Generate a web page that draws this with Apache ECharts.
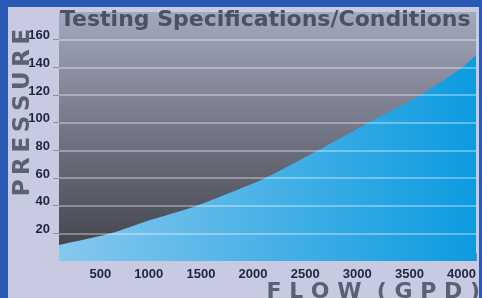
<!DOCTYPE html>
<html>
<head>
<meta charset="utf-8">
<script src="https://cdn.jsdelivr.net/npm/echarts@6/dist/echarts.min.js"></script>
<style>
    html, body { margin: 0; padding: 0; background: #2a5bb4; width: 482px; height: 298px; overflow: hidden; }
    #main { position: absolute; left: 8px; top: 7px; width: 471px; height: 291px; background: #c7cae1; }
</style>
</head>
<body>
<div id="main"></div>
<script>
// 读图得到的数据（曲线与网格线交点）
var flow = [0, 500, 875, 1324, 1981, 2485, 2971, 3471, 3870, 4000];
var pressure = [11.5, 20, 29.6, 40, 60, 80, 100, 120, 140, 149];
var xTicks = [500, 1000, 1500, 2000, 2500, 3000, 3500, 4000];
var yTicks = [20, 40, 60, 80, 100, 120, 140, 160];

var labelFont = "'Liberation Sans', Arial, sans-serif";
var nameColor = '#5a6171';

var myChart = echarts.init(document.getElementById('main'));

var option = {
    animation: false,
    title: {
        text: 'Testing Specifications/Conditions',
        left: 52,
        top: 2,
        padding: 0,
        textStyle: {
            fontFamily: 'DejaVu Sans',
            fontWeight: 'bold',
            fontSize: 22,
            color: '#4a5162'
        }
    },
    grid: {
        left: 51,
        right: 3,
        top: 5,
        bottom: 37,
        outerBoundsMode: 'none',
        containLabel: false,
        show: true,
        borderWidth: 0,
        backgroundColor: new echarts.graphic.LinearGradient(0, 0, 0, 1, [
            {offset: 0, color: '#a3a8bd'},
            {offset: 1, color: '#3e3f48'}
        ])
    },
    xAxis: {
        type: 'value',
        min: 0,
        max: 4000,
        interval: 500,
        name: 'F L O W  ( G P D )',
        nameLocation: 'end',
        nameGap: 4,
        nameMoveOverlap: false,
        nameTextStyle: {
            fontFamily: 'DejaVu Sans',
            fontWeight: 'bold',
            fontSize: 22,
            color: nameColor,
            align: 'right',
            verticalAlign: 'top',
            padding: [20, 0, 0, 0]
        },
        axisLine: {show: false},
        axisTick: {
            show: true,
            inside: true,
            length: 8,
            customValues: xTicks,
            lineStyle: {color: 'rgba(70,80,100,0.55)', width: 1}
        },
        axisLabel: {
            margin: 7,
            align: 'right',
            customValues: xTicks,
            formatter: function (v) { return String(v); },
            fontFamily: labelFont,
            fontWeight: 'bold',
            fontSize: 13,
            color: '#1f2540'
        },
        splitLine: {show: false}
    },
    yAxis: {
        type: 'value',
        min: 0,
        max: 180,
        interval: 20,
        name: 'P\u2009R\u2009E\u2009S\u2009S\u2009U\u2009R\u2009E',
        nameLocation: 'middle',
        nameRotate: 90,
        nameGap: 24,
        nameMoveOverlap: false,
        nameTextStyle: {
            fontFamily: 'DejaVu Sans',
            fontWeight: 'bold',
            fontSize: 23,
            color: nameColor,
            padding: [0, 0, 0, 48]
        },
        axisLine: {show: false},
        axisTick: {
            show: true,
            length: 6,
            customValues: yTicks,
            lineStyle: {color: '#8a8fa6', width: 1}
        },
        axisLabel: {
            margin: 9,
            customValues: yTicks,
            formatter: function (v) { return String(v); },
            fontFamily: labelFont,
            fontWeight: 'bold',
            fontSize: 13,
            lineHeight: 8,
            color: '#1f2540',
            verticalAlign: 'bottom'
        },
        splitLine: {show: false}
    },
    series: [{
        type: 'line',
        data: flow.map(function (f, i) { return [f, pressure[i]]; }),
        smooth: 0.2,
        symbol: 'none',
        lineStyle: {width: 0},
        areaStyle: {
            opacity: 1,
            color: new echarts.graphic.LinearGradient(0, 0, 1, 0, [
                {offset: 0, color: '#86c8ee'},
                {offset: 1, color: '#0c9be0'}
            ])
        },
        markLine: {
            silent: true,
            symbol: 'none',
            label: {show: false},
            lineStyle: {color: 'rgba(255,255,255,0.45)', width: 1.5, type: 'solid'},
            data: yTicks.map(function (v) { return {yAxis: v}; })
        }
    }]
};

myChart.setOption(option);
</script>
</body>
</html>
